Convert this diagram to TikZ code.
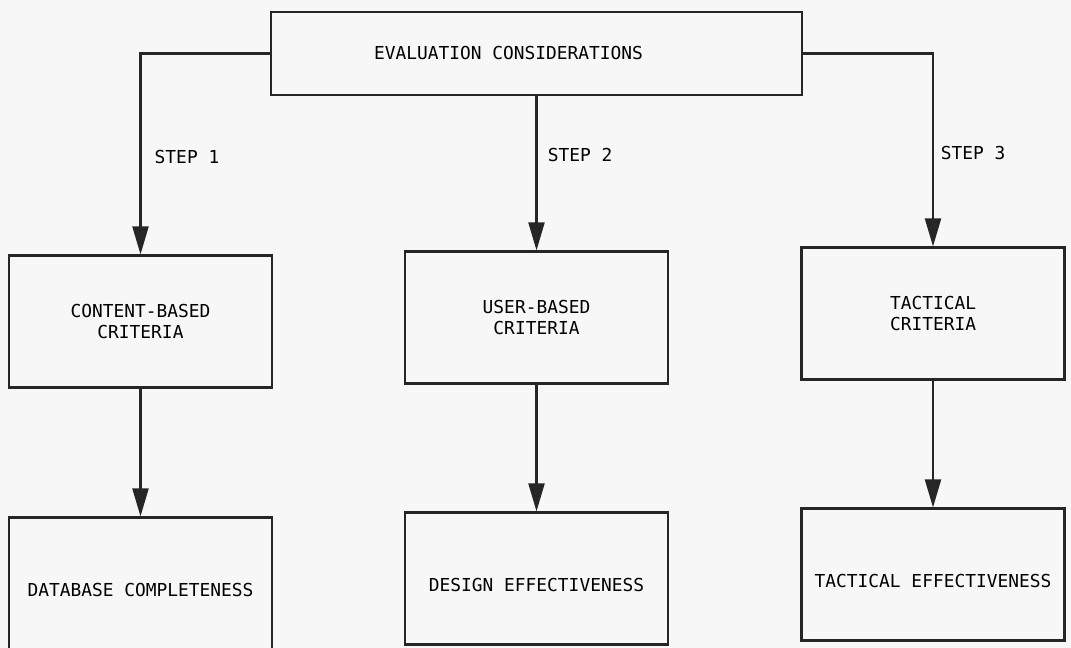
\documentclass[tikz,border=0pt]{standalone}
\usepackage{fontspec}
\setmonofont{DejaVu Sans Mono}
\usetikzlibrary{positioning,arrows.meta}
\tikzset{
  evbox/.style={draw=black!85, line width=1.5pt, align=center,
    font=\fontsize{12.7pt}{14.5pt}\selectfont\ttfamily,
    minimum width=6.575cm, minimum height=3.3cm, inner sep=0pt},
  evlow/.style={evbox, text height=0.8cm, text depth=0.13cm},
  evarrow/.style={-{Triangle[length=7mm, width=4mm]}, line width=1.5pt, draw=black!85},
  evlabel/.style={font=\fontsize{12.7pt}{14.5pt}\selectfont\ttfamily, inner sep=0pt},
}

\begin{document}
\begin{tikzpicture}[x=0.025cm, y=-0.025cm]
  \fill[black!3] (0,0) rectangle (1071,648);
  \useasboundingbox (0,0) rectangle (1071,648);
  % top
  \node[evbox, minimum width=13.25cm, minimum height=2.075cm] (eval) at (536.5,53.5)
    {EVALUATION CONSIDERATIONS\hspace*{1.4cm}};
  % criteria
  \node[evbox] (content) at (140.5,321.5) {CONTENT-BASED\\CRITERIA};
  \node[evbox] (user) at (536.5,317.5) {USER-BASED\\CRITERIA};
  \node[evbox] (tact) at (933,313.5) {TACTICAL\\CRITERIA};
  % effectiveness
  \node[evlow] (dbc) at (140.5,583.5) {DATABASE COMPLETENESS};
  \node[evlow] (des) at (536.5,578.5) {DESIGN EFFECTIVENESS};
  \node[evlow] (teff) at (933,574.5) {TACTICAL EFFECTIVENESS};
  % steps
  \draw[evarrow] (eval.west) -| (content.north);
  \draw[evarrow] (eval.south) -- (user.north);
  \draw[evarrow] (eval.east) -| (tact.north);
  \node[evlabel] (s1) at (187,157) {STEP 1};
  \node[evlabel] (s2) at (580,155) {STEP 2};
  \node[evlabel] (s3) at (973,153) {STEP 3};
  \draw[evarrow] (content) -- (dbc);
  \draw[evarrow] (user) -- (des);
  \draw[evarrow] (tact) -- (teff);
\end{tikzpicture}
\end{document}
